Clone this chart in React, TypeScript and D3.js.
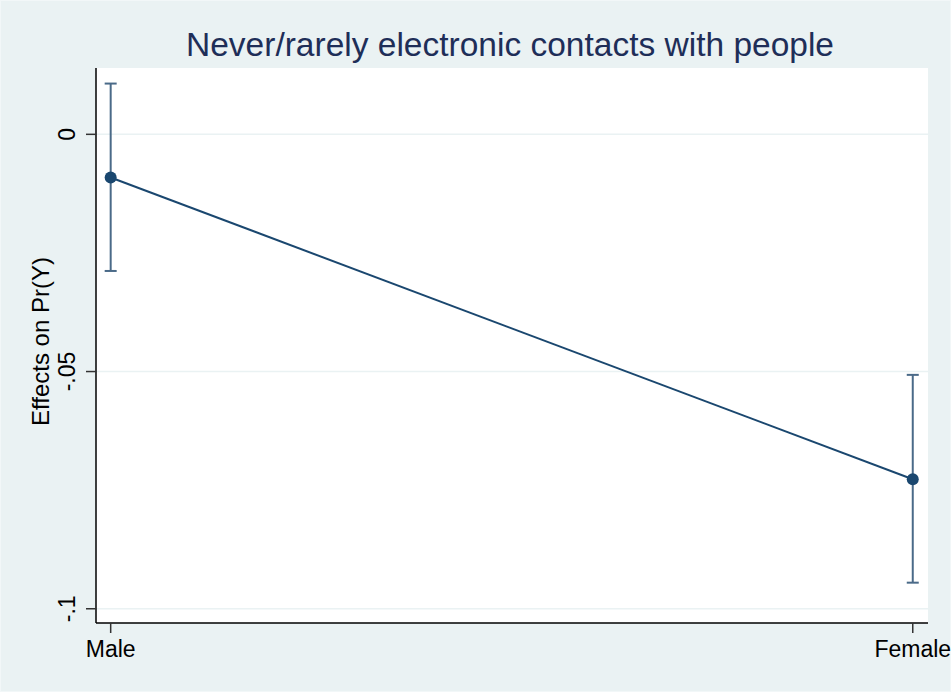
import * as React from 'react';
import * as d3 from 'd3';

// marginsplot values
const categories = ['Male', 'Female'];
const catPos = [1, 2];
const effects = [-0.0091, -0.0727];
const ciLow = [-0.0288, -0.0945];
const ciHigh = [0.0107, -0.0507];
const yTicks = [0, -0.05, -0.1];
const yTickLabels = ['0', '-.05', '-.1'];

const W = 951;
const H = 692;
const plot = {left: 96, right: 928, top: 68, bottom: 623};
const navy = '#1a476f';
const ciColor = '#4a6a88';
const bg = '#eaf2f3';
const font = '"Liberation Sans", Arial, Helvetica, sans-serif';

export default function App() {
    const x = d3.scaleLinear().domain([0.9817, 2.019]).range([plot.left, plot.right]);
    const y = d3.scaleLinear().domain([-0.103, 0.01398]).range([plot.bottom, plot.top]);

    const pts = catPos.map((c, i) => ({x: c, y: effects[i]}));
    const line = d3.line<{x: number; y: number}>()
        .x((d) => x(d.x))
        .y((d) => y(d.y));

    const cap = 6;
    const tickLen = 10;

    return (
        <svg width={W} height={H} style={{position: 'absolute', left: 0, top: 0}}>
            <rect x={0.5} y={0.5} width={W - 1} height={H - 1} fill={bg} stroke='#f2f7f8' />
            <rect x={plot.left} y={plot.top} width={plot.right - plot.left} height={plot.bottom - plot.top} fill='white' />
            {yTicks.map((t) => (
                <line key={t} x1={plot.left} x2={plot.right} y1={y(t)} y2={y(t)} stroke={bg} strokeWidth={1.5} />
            ))}
            {catPos.map((c, i) => (
                <g key={c} stroke={ciColor} strokeWidth={2} fill='none'>
                    <line x1={x(c)} x2={x(c)} y1={y(ciLow[i])} y2={y(ciHigh[i])} />
                    <line x1={x(c) - cap} x2={x(c) + cap} y1={y(ciLow[i])} y2={y(ciLow[i])} />
                    <line x1={x(c) - cap} x2={x(c) + cap} y1={y(ciHigh[i])} y2={y(ciHigh[i])} />
                </g>
            ))}
            <path d={line(pts) || ''} fill='none' stroke={navy} strokeWidth={2} />
            {pts.map((p) => (
                <circle key={p.x} cx={x(p.x)} cy={y(p.y)} r={6} fill={navy} />
            ))}
            <g className='y-axis' fontFamily={font} fontSize={23} fill='black'>
                <line x1={plot.left} x2={plot.left} y1={plot.top} y2={plot.bottom} stroke='black' strokeWidth={1.5} />
                {yTicks.map((t, i) => (
                    <g key={t} transform={`translate(0,${y(t)})`}>
                        <line x1={plot.left - tickLen} x2={plot.left} y1={0} y2={0} stroke='#333' strokeWidth={1.5} />
                        <text transform={`translate(${plot.left - 21},0) rotate(-90)`} textAnchor='middle'>{yTickLabels[i]}</text>
                    </g>
                ))}
                <text transform={`translate(49,${(plot.top + plot.bottom) / 2 - 4}) rotate(-90)`} textAnchor='middle' fontSize={24}>
                    Effects on Pr(Y)
                </text>
            </g>
            <g className='x-axis' fontFamily={font} fontSize={23} fill='black'>
                <line x1={plot.left} x2={plot.right} y1={plot.bottom} y2={plot.bottom} stroke='black' strokeWidth={1.5} />
                {catPos.map((c, i) => (
                    <g key={c} transform={`translate(${x(c)},${plot.bottom})`}>
                        <line x1={0} x2={0} y1={0} y2={tickLen} stroke='#333' strokeWidth={1.5} />
                        <text y={34} textAnchor='middle'>{categories[i]}</text>
                    </g>
                ))}
            </g>
            <text x={(plot.left + plot.right) / 2 - 2} y={56} textAnchor='middle' fontFamily={font} fontSize={33.5} fill='#1e2e58'>
                Never/rarely electronic contacts with people
            </text>
        </svg>
    );
}
